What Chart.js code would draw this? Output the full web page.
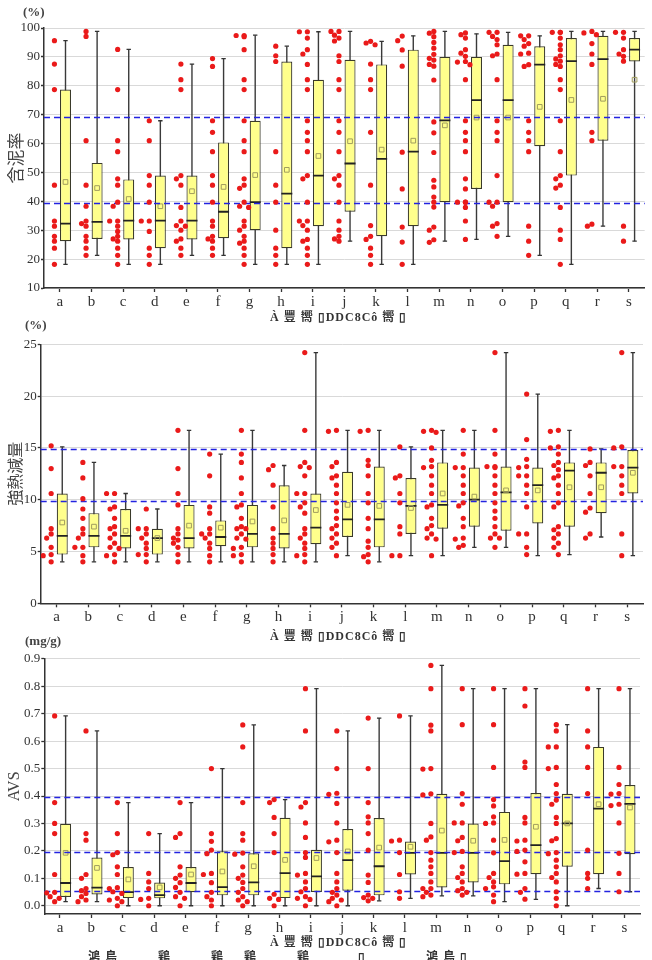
<!DOCTYPE html>
<html>
<head>
<meta charset="utf-8">
<script src="https://cdn.jsdelivr.net/npm/chart.js@4.4.1/dist/chart.umd.min.js"></script>
<style>
  body { margin: 0; background: #fff; width: 652px; height: 960px; overflow: hidden; position: relative;
         font-family: "Liberation Serif", "Times New Roman", serif; color: #333; }
  canvas { position: absolute; left: 0; }
  .txt { position: absolute; white-space: pre; line-height: 1; }
  .unit { font-size: 13px; font-weight: bold; color: #444; }
  .xtitle { font-size: 12px; font-weight: bold; color: #333; letter-spacing: 1px;
            font-family: "Liberation Serif", "Noto Sans CJK JP", serif; }
</style>
</head>
<body>
<canvas id="c1" width="652" height="330" style="top:0"></canvas>
<canvas id="c2" width="652" height="320" style="top:330px"></canvas>
<canvas id="c3" width="652" height="310" style="top:650px"></canvas>

<div class="txt unit" style="left:23px;top:5px">(%)</div>
<div class="txt unit" style="left:25px;top:318px">(%)</div>
<div class="txt unit" style="left:25px;top:634px">(mg/g)</div>
<div class="txt xtitle" style="left:270px;top:311px">À 豐 嚮 ▯DDC8Cô 嚮 ▯</div>
<div class="txt xtitle" style="left:270px;top:630px">À 豐 嚮 ▯DDC8Cô 嚮 ▯</div>
<div class="txt xtitle" style="left:270px;top:936px">À 豐 嚮 ▯DDC8Cô 嚮 ▯</div>
<div class="txt xtitle" style="left:88px;top:951px">鴻 鳥          鶏          鶏     鶏          鶏            ▯               鴻 鳥 ▯</div>

<script>
// categorías
const CATS = ['a', 'b', 'c', 'd', 'e', 'f', 'g', 'h', 'i', 'j', 'k', 'l', 'm', 'n', 'o', 'p', 'q', 'r', 's'];

/* ===== 含泥率 (%) ===== */
const mudTicks = [10, 20, 30, 40, 50, 60, 70, 80, 90, 100];
const mudRefs = [69.3, 39.5];
const mudLow = [18.2, 21.3, 18.2, 18.2, 21.3, 21.3, 18.2, 18.2, 18.2, 26.2, 18.2, 18.2, 26.2, 26.8, 27.9, 21.3, 18.2, 31.4, 26.2];
const mudQ1 = [26.2, 27.0, 26.8, 23.8, 26.8, 27.2, 30.0, 23.8, 31.4, 36.4, 27.9, 31.4, 39.7, 44.3, 39.7, 59.1, 48.9, 61.0, 88.4];
const mudMedian = [32.3, 32.9, 33.3, 33.3, 33.3, 36.4, 39.7, 42.7, 48.9, 53.1, 54.7, 57.2, 68.0, 75.0, 75.0, 87.3, 88.5, 89.2, 92.5];
const mudQ3 = [78.7, 53.3, 47.6, 48.9, 48.9, 60.4, 67.9, 88.4, 82.1, 89.0, 87.4, 92.5, 90.0, 90.0, 94.2, 93.7, 96.5, 97.3, 96.5];
const mudHigh = [95.6, 98.8, 92.6, 67.9, 87.5, 89.4, 97.5, 93.7, 98.7, 98.8, 95.4, 97.3, 98.8, 98.0, 98.5, 97.3, 98.8, 98.8, 98.8];
const mudMean = [46.7, 44.6, 40.8, 38.3, 43.5, 45.0, 49.1, 50.9, 55.7, 60.8, 57.9, 61.0, 66.3, 69.0, 69.0, 72.7, 75.1, 75.5, 82.1];
const mudPoints = [
  [95.6, 87.5, 78.7, 45.6, 33.2, 31.4, 27.9, 26.2, 23.8, 18.2],
  [98.8, 97.1, 61.0, 45.6, 38.3, 33.2, 32.3, 31.4, 27.9, 26.2, 23.8, 21.3],
  [92.6, 78.7, 61.0, 57.2, 47.8, 45.6, 39.7, 38.3, 33.2, 33.2, 31.4, 29.6, 27.9, 27.0, 26.2, 23.8, 21.3, 18.2],
  [67.9, 61.0, 48.9, 45.6, 39.7, 33.2, 33.2, 29.6, 23.8, 21.3, 18.2],
  [87.5, 82.1, 78.7, 48.9, 47.8, 45.6, 37.9, 33.2, 31.6, 31.4, 30.0, 27.0, 26.2, 23.8, 21.3],
  [89.4, 86.7, 67.9, 63.9, 57.2, 48.9, 45.6, 39.7, 33.2, 31.4, 27.9, 27.0, 26.2, 23.8, 21.3],
  [97.4, 97.4, 97.0, 92.5, 82.1, 78.7, 67.9, 61.0, 57.2, 47.8, 45.6, 44.5, 39.7, 38.3, 37.9, 33.2, 31.4, 30.0, 27.9, 26.2, 25.5, 23.8, 21.3, 18.2],
  [93.7, 90.4, 88.4, 57.2, 45.6, 39.7, 30.0, 23.8, 21.3, 18.2],
  [98.7, 98.7, 96.5, 92.5, 91.0, 87.4, 82.1, 78.7, 67.9, 63.9, 61.0, 57.2, 48.9, 47.8, 39.7, 33.2, 33.2, 31.6, 30.0, 26.8, 26.2, 23.8, 21.3, 18.2],
  [98.8, 98.8, 97.5, 96.5, 95.5, 90.4, 88.4, 82.1, 78.7, 67.9, 63.9, 57.2, 48.9, 47.8, 45.6, 39.7, 33.2, 30.0, 27.9, 27.0, 26.2],
  [95.4, 94.8, 94.2, 87.5, 82.1, 78.7, 63.9, 45.6, 31.6, 27.9, 26.8, 23.8, 21.3, 18.2],
  [97.2, 95.6, 92.4, 86.8, 57.0, 44.3, 31.1, 25.9, 18.2],
  [98.8, 98.2, 97.0, 95.0, 93.0, 90.9, 89.5, 88.9, 87.4, 86.8, 82.0, 67.5, 63.7, 56.9, 47.3, 45.0, 41.5, 39.7, 38.0, 31.1, 30.0, 26.7, 25.8],
  [98.3, 97.7, 96.5, 92.5, 91.3, 90.2, 88.4, 88.2, 87.3, 82.1, 67.9, 63.9, 61.0, 57.2, 47.8, 44.3, 39.7, 39.7, 39.7, 37.9, 33.2, 26.8],
  [98.5, 98.5, 97.1, 96.0, 94.2, 91.0, 90.4, 82.1, 67.9, 63.9, 61.0, 48.9, 39.7, 39.7, 38.3, 32.3, 31.4, 27.9],
  [97.3, 97.3, 96.0, 94.6, 93.7, 91.3, 91.0, 87.3, 86.7, 67.9, 63.9, 61.0, 57.2, 31.4, 26.2, 21.3],
  [98.5, 98.5, 98.5, 96.5, 94.2, 92.5, 90.4, 89.3, 88.5, 87.4, 86.7, 82.1, 78.7, 67.9, 57.2, 48.9, 47.8, 45.6, 44.6, 37.9, 30.0, 26.8, 18.2],
  [98.8, 98.3, 97.7, 94.6, 91.0, 87.4, 63.9, 61.0, 32.1, 31.4],
  [98.5, 98.5, 96.5, 92.5, 91.0, 90.2, 88.5, 31.4, 26.2]
];

/* ===== 強熱減量 (%) ===== */
const ignTicks = [0, 5, 10, 15, 20, 25];
const ignRefs = [14.9, 9.85];
const ignLow = [4.0, 4.0, 4.0, 4.0, 4.0, 4.0, 4.0, 4.0, 4.0, 4.6, 4.0, 4.6, 4.6, 5.4, 5.4, 4.6, 4.7, 6.4, 4.6];
const ignQ1 = [4.7, 5.4, 5.3, 4.7, 5.3, 5.5, 5.4, 5.3, 5.7, 6.4, 5.4, 6.7, 7.2, 7.4, 7.0, 7.7, 7.4, 8.7, 10.6];
const ignMedian = [6.5, 6.5, 6.5, 6.3, 6.3, 6.4, 6.7, 6.7, 7.3, 8.1, 8.1, 9.4, 9.5, 10.0, 10.7, 11.4, 12.8, 12.6, 13.1];
const ignQ3 = [10.6, 8.7, 9.1, 7.2, 9.5, 8.0, 9.5, 11.4, 10.6, 12.7, 13.2, 12.1, 13.6, 13.1, 13.2, 13.1, 13.6, 13.6, 14.8];
const ignHigh = [15.1, 13.6, 10.6, 9.1, 16.7, 14.4, 16.7, 13.3, 24.2, 16.7, 16.7, 15.1, 16.7, 16.7, 24.2, 20.2, 16.7, 14.9, 24.2];
const ignMean = [7.8, 7.4, 7.0, 6.3, 7.5, 7.3, 7.9, 8.0, 9.0, 9.5, 9.4, 9.2, 10.6, 10.3, 10.9, 10.9, 11.2, 11.2, 12.6];
const ignPoints = [
  [15.2, 13.0, 10.6, 7.2, 6.7, 6.3, 5.4, 4.7, 4.6, 4.0],
  [13.6, 12.1, 10.1, 9.1, 8.2, 7.2, 6.7, 6.3, 5.4, 5.4, 4.6, 4.0],
  [10.6, 10.6, 9.3, 9.1, 8.2, 7.4, 7.2, 6.7, 6.3, 5.8, 5.4, 5.3, 4.7, 4.6, 4.0],
  [9.1, 7.2, 7.2, 6.7, 6.3, 5.8, 5.3, 4.7, 4.7, 4.0],
  [16.7, 13.0, 10.6, 9.5, 7.2, 6.7, 6.3, 6.1, 5.8, 5.4, 4.7, 4.0],
  [14.4, 12.3, 9.3, 8.7, 7.2, 6.7, 6.7, 6.3, 5.8, 5.3, 4.6, 4.0],
  [16.7, 14.4, 13.6, 12.1, 10.6, 9.5, 9.3, 8.2, 7.4, 7.2, 7.2, 6.7, 6.3, 6.2, 5.4, 5.3, 4.7, 4.6, 4.0],
  [13.3, 12.9, 11.4, 9.3, 7.2, 6.3, 5.8, 5.3, 4.7, 4.0],
  [24.2, 16.7, 13.6, 13.2, 13.1, 12.3, 10.6, 10.6, 9.7, 9.3, 8.7, 7.2, 6.7, 6.3, 5.8, 5.3, 4.7, 4.6, 4.0],
  [16.7, 16.6, 13.6, 13.2, 12.3, 12.1, 11.4, 10.6, 9.7, 8.9, 8.2, 7.5, 7.2, 6.7, 6.3, 5.8, 5.4, 4.6],
  [16.7, 16.6, 13.8, 13.3, 12.3, 10.6, 9.7, 8.2, 7.2, 6.0, 5.4, 4.7, 4.5, 4.0],
  [15.1, 12.3, 12.1, 10.6, 9.7, 7.4, 6.7, 4.6, 4.6],
  [16.7, 16.6, 16.5, 15.0, 13.8, 13.2, 13.1, 12.3, 11.4, 10.6, 9.5, 9.3, 8.2, 7.5, 7.2, 6.7, 6.3, 6.2, 4.6],
  [16.7, 14.4, 13.1, 13.1, 12.3, 11.4, 10.6, 9.7, 9.4, 8.2, 7.4, 6.3, 6.2, 5.6, 5.4],
  [24.2, 16.7, 14.4, 13.2, 13.2, 13.1, 12.3, 11.4, 10.6, 9.7, 8.9, 8.2, 7.4, 6.7, 6.3, 6.3, 5.4],
  [20.2, 15.8, 13.9, 13.2, 13.1, 12.3, 12.3, 11.4, 10.6, 9.3, 6.7, 6.7, 5.4, 4.7],
  [16.7, 16.6, 15.1, 15.0, 14.4, 13.6, 13.3, 12.9, 12.3, 12.1, 11.4, 10.6, 9.7, 9.3, 7.4, 7.1, 6.7, 6.3, 5.8, 5.4, 4.7],
  [14.9, 13.6, 13.3, 12.3, 10.6, 9.2, 8.8, 6.7, 6.3],
  [24.2, 15.1, 15.0, 13.2, 13.2, 12.3, 11.4, 10.6, 6.7, 4.6]
];

/* ===== AVS (mg/g) ===== */
const avsTicks = [0.0, 0.1, 0.2, 0.3, 0.4, 0.5, 0.6, 0.7, 0.8, 0.9];
const avsRefs = [0.395, 0.197, 0.052];
const avsLow = [0.015, 0.015, 0.0, 0.0, 0.0, 0.0, 0.0, 0.0, 0.0, 0.0, 0.018, 0.027, 0.036, 0.036, 0.015, 0.023, 0.0, 0.063, 0.051];
const avsQ1 = [0.032, 0.041, 0.028, 0.027, 0.049, 0.038, 0.038, 0.028, 0.050, 0.055, 0.038, 0.114, 0.067, 0.085, 0.078, 0.115, 0.142, 0.115, 0.188];
const avsMedian = [0.083, 0.066, 0.050, 0.039, 0.083, 0.068, 0.085, 0.119, 0.107, 0.166, 0.144, 0.193, 0.193, 0.193, 0.163, 0.221, 0.300, 0.354, 0.371];
const avsQ3 = [0.299, 0.176, 0.141, 0.085, 0.141, 0.199, 0.191, 0.321, 0.204, 0.280, 0.320, 0.234, 0.408, 0.300, 0.342, 0.411, 0.408, 0.579, 0.440];
const avsHigh = [0.692, 0.637, 0.376, 0.263, 0.376, 0.500, 0.659, 0.387, 0.791, 0.637, 0.684, 0.692, 0.876, 0.791, 0.791, 0.791, 0.660, 0.791, 0.791];
const avsMean = [0.193, 0.138, 0.096, 0.067, 0.114, 0.125, 0.144, 0.167, 0.174, 0.198, 0.212, 0.215, 0.274, 0.237, 0.240, 0.288, 0.300, 0.370, 0.358];
const avsPoints = [
  [0.692, 0.376, 0.300, 0.263, 0.114, 0.049, 0.047, 0.033, 0.027, 0.015],
  [0.637, 0.263, 0.239, 0.114, 0.100, 0.063, 0.055, 0.045, 0.033, 0.021, 0.015],
  [0.376, 0.263, 0.194, 0.186, 0.142, 0.114, 0.066, 0.063, 0.051, 0.045, 0.027, 0.021, 0.015, 0.0],
  [0.263, 0.118, 0.087, 0.063, 0.027, 0.023, 0.0],
  [0.376, 0.263, 0.249, 0.142, 0.112, 0.100, 0.084, 0.067, 0.049, 0.033, 0.027, 0.0],
  [0.500, 0.263, 0.235, 0.203, 0.190, 0.118, 0.114, 0.084, 0.049, 0.033, 0.021, 0.0],
  [0.659, 0.579, 0.376, 0.263, 0.239, 0.192, 0.188, 0.142, 0.112, 0.100, 0.085, 0.063, 0.049, 0.033, 0.021, 0.015, 0.0],
  [0.387, 0.376, 0.322, 0.263, 0.194, 0.042, 0.027, 0.023, 0.0],
  [0.791, 0.637, 0.376, 0.360, 0.302, 0.249, 0.194, 0.176, 0.118, 0.112, 0.087, 0.063, 0.051, 0.033, 0.027, 0.023, 0.0],
  [0.637, 0.500, 0.410, 0.406, 0.373, 0.302, 0.239, 0.233, 0.194, 0.118, 0.087, 0.063, 0.049, 0.039, 0.027, 0.021, 0.015, 0.0],
  [0.684, 0.500, 0.376, 0.324, 0.302, 0.263, 0.203, 0.112, 0.085, 0.039, 0.030, 0.027, 0.018],
  [0.692, 0.239, 0.236, 0.194, 0.114, 0.051, 0.027],
  [0.876, 0.791, 0.658, 0.637, 0.500, 0.498, 0.408, 0.404, 0.300, 0.251, 0.239, 0.194, 0.166, 0.142, 0.118, 0.087, 0.063, 0.063, 0.049, 0.039, 0.033],
  [0.791, 0.660, 0.409, 0.370, 0.302, 0.302, 0.249, 0.237, 0.198, 0.194, 0.142, 0.118, 0.103, 0.087, 0.063, 0.055, 0.049, 0.039],
  [0.791, 0.660, 0.504, 0.387, 0.364, 0.324, 0.302, 0.300, 0.239, 0.193, 0.118, 0.103, 0.087, 0.069, 0.063, 0.039, 0.015],
  [0.791, 0.728, 0.524, 0.504, 0.322, 0.302, 0.239, 0.236, 0.203, 0.198, 0.160, 0.118, 0.115, 0.063, 0.049, 0.024],
  [0.660, 0.637, 0.579, 0.579, 0.504, 0.500, 0.442, 0.409, 0.385, 0.370, 0.322, 0.300, 0.245, 0.237, 0.194, 0.190, 0.166, 0.142, 0.118, 0.103, 0.087, 0.051, 0.027, 0.0],
  [0.791, 0.637, 0.579, 0.504, 0.409, 0.203, 0.118, 0.100, 0.063],
  [0.791, 0.504, 0.442, 0.409, 0.407, 0.370, 0.365, 0.302, 0.191, 0.118, 0.051]
];

// Estilo
const SERIF = '"Liberation Serif", "Times New Roman", serif';
const CJK = '"Noto Sans CJK JP", sans-serif';
const BOX_SHIFT = 0.18;    // caja a la derecha de la marca
const PT_SHIFT = -0.17;    // puntos a la izquierda
const SLOTS = [0, -4.5, 4.5, -8, -2.2, 2.2];   // desplazamientos (px) para puntos solapados

// líneas de referencia discontinuas, dibujadas antes de los puntos
const refLinesPlugin = {
  id: 'refLines',
  beforeDatasetDraw(chart, args, opts) {
    if (args.index !== 0) return;
    const { ctx, chartArea, scales } = chart;
    ctx.save();
    ctx.strokeStyle = '#2323e0';
    ctx.lineWidth = 1.6;
    ctx.setLineDash([6, 4]);
    opts.values.forEach(v => {
      const y = Math.round(scales.y.getPixelForValue(v)) + 0.5;
      ctx.beginPath();
      ctx.moveTo(chartArea.left, y);
      ctx.lineTo(chartArea.right, y);
      ctx.stroke();
    });
    ctx.restore();
  }
};

function buildChart(id, cfg) {
  const n = CATS.length;
  const idx = CATS.map((_, i) => i);

  const datasets = [
    { type: 'scatter', xAxisID: 'xp', order: 0,
      data: cfg.points.flatMap((vals, i) => vals.map(v => ({ x: i, y: v }))),
      pointRadius: 2.6, pointBackgroundColor: '#ea1a1a', pointBorderWidth: 0 },
    { type: 'scatter', xAxisID: 'xb', order: 1,
      data: idx.map(i => ({ x: i, y: cfg.mean[i] })),
      pointStyle: 'rect', pointRadius: 3.3, pointBorderColor: '#a19d5e',
      pointBackgroundColor: 'rgba(0,0,0,0)', pointBorderWidth: 1 },
    { type: 'scatter', xAxisID: 'xb', order: 1,
      data: idx.map(i => ({ x: i, y: cfg.median[i] })),
      pointStyle: 'line', pointRadius: 5.5, pointBorderColor: '#222', pointBorderWidth: 1.8 },
    { type: 'scatter', xAxisID: 'xb', order: 2,
      data: idx.flatMap(i => [{ x: i, y: cfg.low[i] }, { x: i, y: cfg.high[i] }]),
      pointStyle: 'line', pointRadius: 2.2, pointBorderColor: '#333', pointBorderWidth: 1.3 },
    { type: 'bar', xAxisID: 'xb', order: 3, grouped: false, maxBarThickness: 11,
      data: idx.map(i => ({ x: i, y: [cfg.q1[i], cfg.q3[i]] })),
      backgroundColor: '#ffff8c', borderColor: '#3a3a2a', borderWidth: 1.2, borderSkipped: false },
    { type: 'bar', xAxisID: 'xb', order: 4, grouped: false, maxBarThickness: 1.4,
      data: idx.map(i => ({ x: i, y: [cfg.low[i], cfg.high[i]] })),
      backgroundColor: '#3a3a3a', borderWidth: 0 }
  ];

  const chart = new Chart(document.getElementById(id), {
    type: 'bar',
    data: { datasets },
    plugins: [refLinesPlugin],
    options: {
      responsive: false,
      animation: false,
      events: [],
      layout: { padding: cfg.padding },
      plugins: {
        legend: { display: false },
        tooltip: { enabled: false },
        refLines: { values: cfg.refs }
      },
      scales: {
        x: {
          type: 'linear', min: -0.5, max: n - 0.5, offset: false,
          afterBuildTicks: s => { s.ticks = idx.map(i => ({ value: i })); },
          ticks: { font: { family: SERIF, size: 15 }, color: '#333', padding: 1,
                   autoSkip: false, maxRotation: 0, callback: v => CATS[v] },
          grid: { offset: false, drawOnChartArea: false, tickLength: 4, tickColor: '#333', tickWidth: 1.3 },
          border: { color: '#333', width: 1.5 },
          afterFit: s => { s.height = cfg.xHeight; }
        },
        xb: { type: 'linear', display: false, offset: false, grid: { offset: false },
              min: -0.5 - BOX_SHIFT, max: n - 0.5 - BOX_SHIFT },
        xp: { type: 'linear', display: false, offset: false, grid: { offset: false },
              min: -0.5 - PT_SHIFT, max: n - 0.5 - PT_SHIFT },
        y: {
          min: cfg.yMin, max: cfg.yMax,
          afterBuildTicks: s => { s.ticks = cfg.ticks.map(v => ({ value: v })); },
          ticks: { font: { family: SERIF, size: 13 }, color: '#333', padding: 1, callback: cfg.fmt },
          grid: { color: '#d9d9d9', lineWidth: 1, tickLength: 3, tickColor: '#333', tickWidth: 1.3 },
          border: { color: '#333', width: 1.5 },
          title: { display: true, text: cfg.title, color: '#444',
                   font: { family: cfg.titleFont, size: cfg.titleSize }, padding: { top: 5, bottom: 0 } },
          afterFit: s => { s.width = cfg.yWidth; }
        }
      }
    }
  });

  // separar puntos solapados (tipo enjambre)
  const ys = chart.scales.y, xs = chart.scales.xp;
  const unit = xs.getPixelForValue(1) - xs.getPixelForValue(0);
  const swarm = [];
  cfg.points.forEach((vals, i) => {
    const placed = [];
    vals.forEach(v => {
      const py = ys.getPixelForValue(v);
      let off = 0;
      for (const c of SLOTS) {
        if (placed.every(p => Math.hypot(p.x - c, p.y - py) >= 4.8)) { off = c; break; }
      }
      placed.push({ x: off, y: py });
      swarm.push({ x: i + off / unit, y: v });
    });
  });
  chart.data.datasets[0].data = swarm;
  chart.update('none');
  return chart;
}

buildChart('c1', {
  points: mudPoints, low: mudLow, q1: mudQ1, median: mudMedian, q3: mudQ3, high: mudHigh, mean: mudMean,
  refs: mudRefs, ticks: mudTicks, yMin: 10, yMax: 100, fmt: v => v,
  title: '含泥率', titleFont: CJK, titleSize: 17,
  padding: { top: 28, right: 0, left: 0, bottom: 0 }, yWidth: 44, xHeight: 42
});

buildChart('c2', {
  points: ignPoints, low: ignLow, q1: ignQ1, median: ignMedian, q3: ignQ3, high: ignHigh, mean: ignMean,
  refs: ignRefs, ticks: ignTicks, yMin: 0, yMax: 25, fmt: v => v,
  title: '強熱減量', titleFont: CJK, titleSize: 16,
  padding: { top: 14.3, right: 9, left: 0, bottom: 0 }, yWidth: 40.7, xHeight: 46.7
});

buildChart('c3', {
  points: avsPoints, low: avsLow, q1: avsQ1, median: avsMedian, q3: avsQ3, high: avsHigh, mean: avsMean,
  refs: avsRefs, ticks: avsTicks, yMin: -0.03, yMax: 0.9, fmt: v => v.toFixed(1),
  title: 'AVS', titleFont: SERIF, titleSize: 16,
  padding: { top: 8.3, right: 12, left: 0, bottom: 0 }, yWidth: 44.3, xHeight: 46
});
</script>
</body>
</html>
